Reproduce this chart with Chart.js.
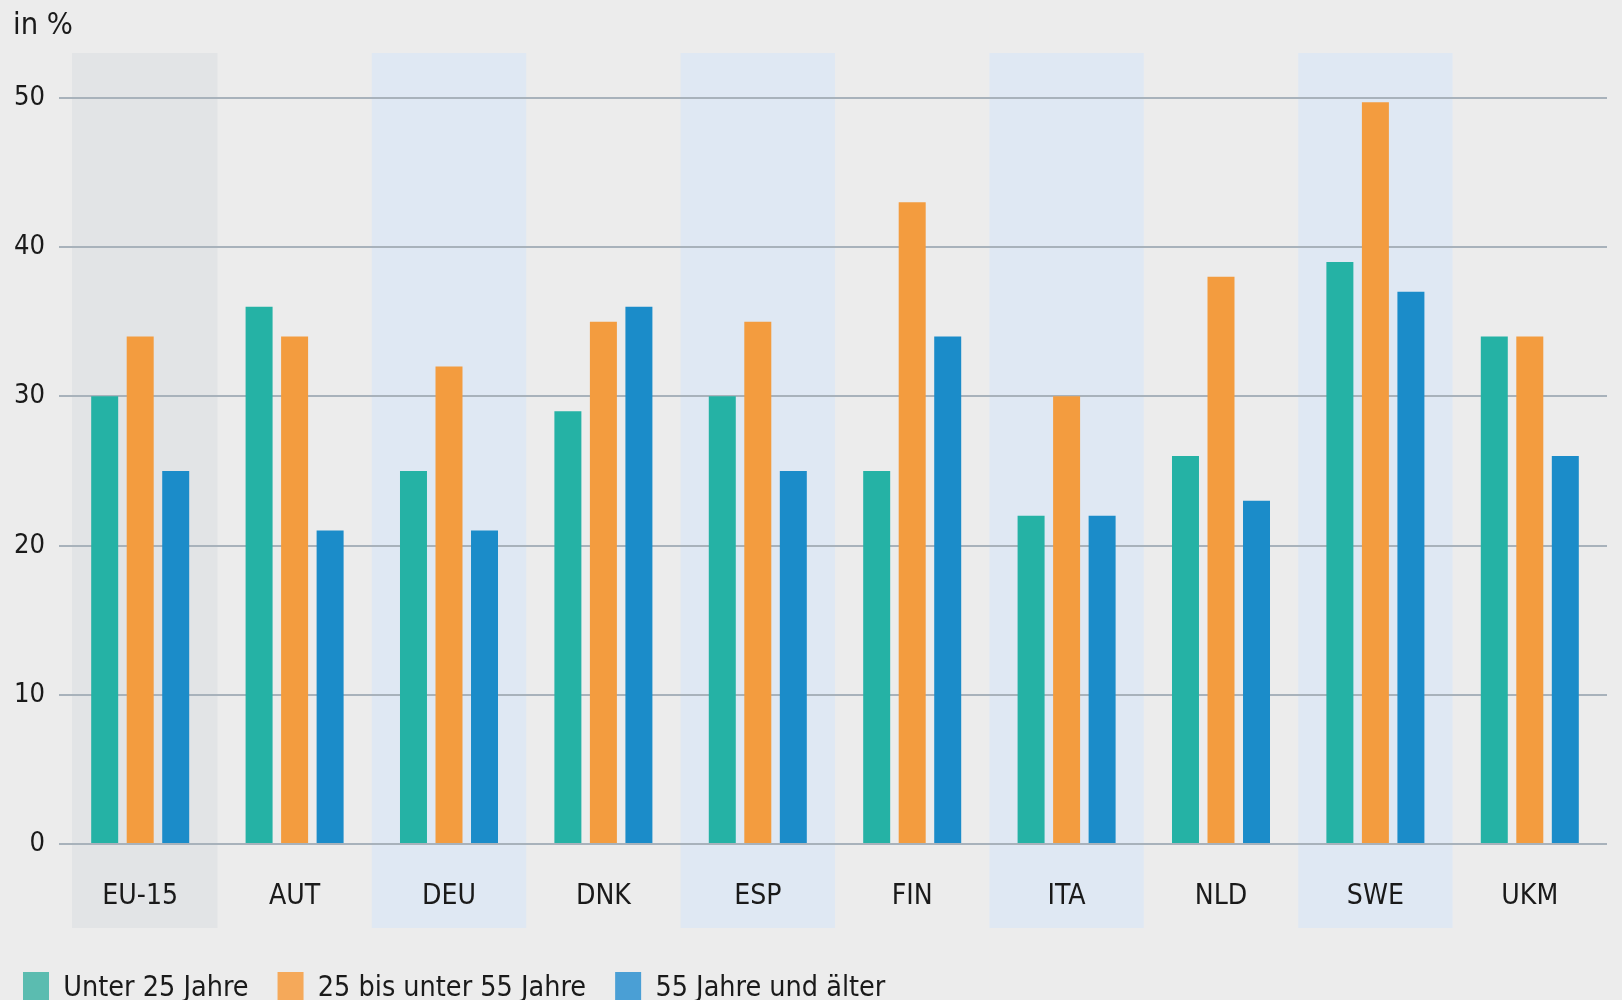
<!DOCTYPE html>
<html>
<head>
<meta charset="utf-8">
<script src="https://cdn.jsdelivr.net/npm/chart.js@4/dist/chart.umd.min.js"></script>
<style>
  html, body { margin: 0; padding: 0; background: #ececec; overflow: hidden; }
  #wrap { position: relative; width: 1622px; height: 1000px; }
</style>
</head>
<body>
<div id="wrap"><canvas id="c"></canvas></div>
<script>
// ---------- DATA ----------
const categories = ['EU-15', 'AUT', 'DEU', 'DNK', 'ESP', 'FIN', 'ITA', 'NLD', 'SWE', 'UKM'];
const seriesNames = ['Unter 25 Jahre', '25 bis unter 55 Jahre', '55 Jahre und älter'];
const under25   = [30, 36, 25, 29, 30, 25, 22, 26, 39, 34];
const age25to55 = [34, 34, 32, 35, 35, 43, 30, 38, 49.7, 34];
const age55plus = [25, 21, 21, 36, 25, 34, 22, 23, 37, 26];
const yTickValues = [0, 10, 20, 30, 40, 50];
const unitLabel = 'in %';

// ---------- STYLE ----------
const barColors    = ['#25b2a5', '#f39c3f', '#1b8cc9'];
const legendColors = ['#5bbcb0', '#f5a95a', '#4a9fd5'];
const bandColors   = ['#e2e4e6', null, '#dfe8f3', null, '#dfe8f3', null, '#dfe8f3', null, '#dfe8f3', null];
const bandInsetLeft = [9, 0, 0, 0, 0, 0, 0, 0, 0, 0];
const textColor = '#1a1a1a';
const gridColor = '#a8b2bb';

function hasFont(f) {
  const c = document.createElement('canvas').getContext('2d');
  const s = 'Unter 25 Jahre EU-15 SWE 0123';
  for (const base of ['monospace', 'serif']) {
    c.font = '72px ' + base;
    const w0 = c.measureText(s).width;
    c.font = `72px "${f}", ${base}`;
    if (Math.abs(c.measureText(s).width - w0) > 0.5) return true;
  }
  return false;
}
const family = ['Liberation Sans Narrow', 'DejaVu Sans Condensed', 'Roboto Condensed', 'Open Sans Condensed', 'Roboto']
  .find(hasFont) || 'sans-serif';
const fontFamily = `"${family}", sans-serif`;

function fitSize(texts, target, max) {
  const c = document.createElement('canvas').getContext('2d');
  c.font = `100px ${fontFamily}`;
  const total = texts.reduce((s, t) => s + c.measureText(t).width, 0);
  return Math.min(max, 100 * target / total);
}
const titleSize  = fitSize([unitLabel], 60, 38);
const yTickSize  = fitSize(['50'], 31, 36);
const xTickSize  = fitSize(['EU-15', 'SWE', 'DNK', 'UKM'], 245, 38);
const legendSize = fitSize(seriesNames, 684, 38);

// layout geometry (pixel targets of the reference)
const plotTop = 53, zeroY = 844, xLabelY = 897, legendY = 989, bandBottomOffset = 84;
const titleLH = titleSize * 1.2;
const titlePadTop = 26 - titleLH / 2;
const titlePadBottom = plotTop - titlePadTop - titleLH;
const xLH = xTickSize * 1.2;
const xPad = xLabelY - zeroY - xLH / 2;
const legendPad = 29, legendBoxH = 34;
const legendItemH = Math.max(legendSize, legendBoxH);
const legendTop = legendY - legendPad - legendItemH / 2;
const legendH = legendItemH + legendPad + 10;
const xAxisH = legendTop - zeroY;
const padBottom = -(legendTop + legendH - 1000);

const bandPlugin = {
  id: 'bands',
  beforeDraw(chart) {
    const { ctx, chartArea, scales: { x } } = chart;
    ctx.save();
    ctx.fillStyle = '#ececec';
    ctx.fillRect(0, 0, chart.width, chart.height);
    const half = (x.getPixelForValue(1) - x.getPixelForValue(0)) / 2;
    bandColors.forEach((col, i) => {
      if (!col) return;
      const cx = x.getPixelForValue(i);
      ctx.fillStyle = col;
      const l = cx - half + bandInsetLeft[i];
      ctx.fillRect(l, chartArea.top, cx + half - l, x.top + bandBottomOffset - chartArea.top);
    });
    ctx.restore();
  },
  afterLayout(chart) {
    const lg = chart.legend;
    if (lg) {
      const shift = (23 - legendPad) - lg.left;
      lg.left += shift; lg.right += shift;
    }
  }
};

new Chart(document.getElementById('c'), {
  type: 'bar',
  data: {
    labels: categories,
    datasets: [
      { label: seriesNames[0], data: under25,   backgroundColor: barColors[0] },
      { label: seriesNames[1], data: age25to55, backgroundColor: barColors[1] },
      { label: seriesNames[2], data: age55plus, backgroundColor: barColors[2] }
    ]
  },
  plugins: [bandPlugin],
  options: {
    responsive: true,
    maintainAspectRatio: false,
    animation: false,
    categoryPercentage: 0.69,
    barPercentage: 0.76,
    layout: { padding: { left: 13, right: 15, top: 0, bottom: padBottom } },
    plugins: {
      tooltip: { enabled: false },
      title: {
        display: true, text: unitLabel, align: 'start', color: textColor,
        font: { family: fontFamily, size: titleSize, weight: 'normal' },
        padding: { top: titlePadTop, bottom: titlePadBottom }
      },
      legend: {
        position: 'bottom', align: 'start',
        labels: {
          color: textColor, boxWidth: 26, boxHeight: legendBoxH, padding: legendPad,
          font: { family: fontFamily, size: legendSize },
          generateLabels(chart) {
            const items = Chart.defaults.plugins.legend.labels.generateLabels(chart);
            items.forEach((it, i) => { it.fillStyle = legendColors[i]; it.strokeStyle = legendColors[i]; it.lineWidth = 0; });
            return items;
          }
        }
      }
    },
    scales: {
      x: {
        grid: { display: false, drawTicks: false },
        border: { display: false },
        ticks: { color: textColor, font: { family: fontFamily, size: xTickSize }, padding: xPad, maxRotation: 0, autoSkip: false },
        afterFit(s) { s.height = xAxisH; }
      },
      y: {
        min: 0, max: 53,
        grid: { color: gridColor, lineWidth: 2, drawTicks: true, tickLength: 4 },
        border: { display: false },
        ticks: { color: textColor, font: { family: fontFamily, size: yTickSize }, padding: 14 },
        afterBuildTicks(s) { s.ticks = yTickValues.map(v => ({ value: v })); },
        afterFit(s) { s.width = 50; }
      }
    }
  }
});
</script>
</body>
</html>
